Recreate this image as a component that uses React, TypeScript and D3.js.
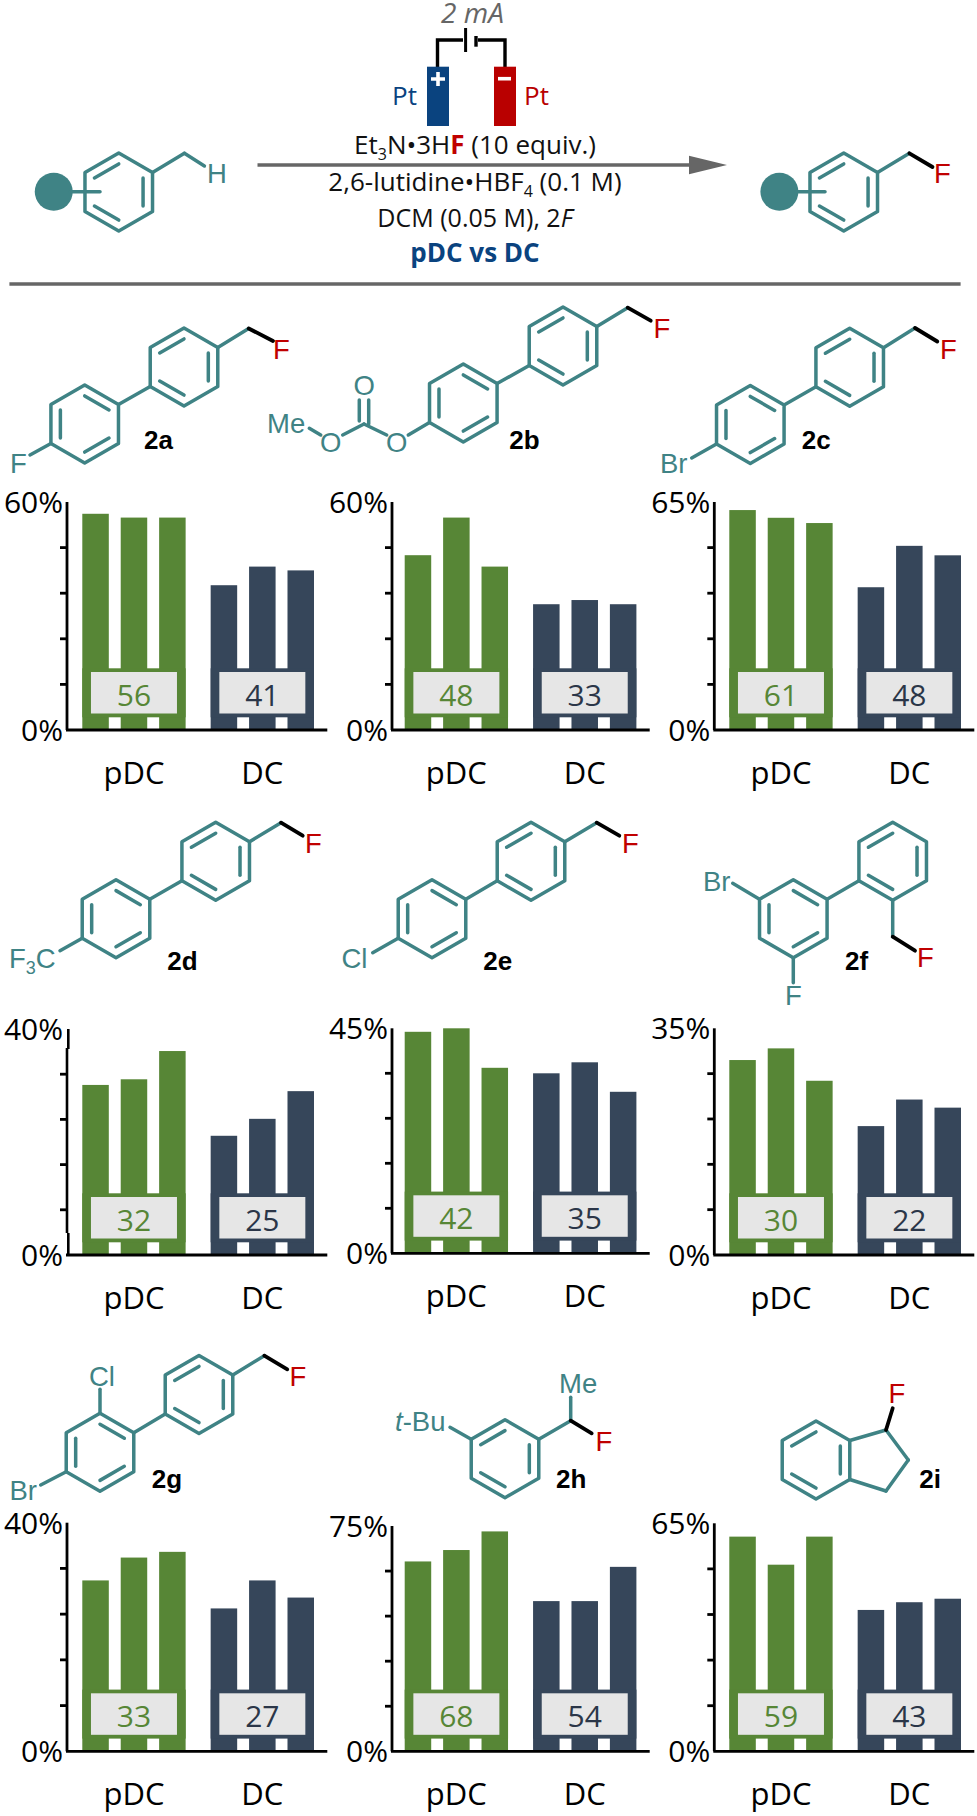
import React from "react";
import * as d3 from "d3";

// ---------- data ----------
const panelIds = ["2a", "2b", "2c", "2d", "2e", "2f", "2g", "2h", "2i"];
const axisMax = [60, 60, 65, 40, 45, 35, 40, 75, 65];
const pdcRuns = [
  [56.9, 55.9, 55.9], [46, 55.9, 43], [62.7, 60.5, 59],
  [30.1, 31.1, 36.1], [44.3, 45, 37.1], [30.1, 31.9, 26.9],
  [29.9, 33.9, 34.9], [63.2, 67, 73.2], [61.2, 53.2, 61.2],
];
const dcRuns = [
  [38.1, 43, 42], [33.1, 34.2, 33.1], [40.7, 52.5, 49.8],
  [21.1, 24.1, 29], [36, 38.2, 32.3], [19.9, 24, 22.75],
  [25, 29.9, 26.9], [50, 50, 61.4], [40.3, 42.5, 43.5],
];
const pdcMeans = [56, 48, 61, 32, 42, 30, 33, 68, 59];
const dcMeans = [41, 33, 48, 25, 35, 22, 27, 54, 43];
const methods = ["pDC", "DC"];
const runs = [0, 1, 2];

// ---------- layout ----------
const axisXs = [67, 392, 714.3];
const barStarts = [82.3, 404.7, 729.3];
const baselines = [730, 730, 730, 1255, 1253.3, 1255, 1751.3, 1751.3, 1751.3];
const tops = [502, 502, 502, 1029, 1028.3, 1028.3, 1522.7, 1526, 1523.3];

const TEAL = "#3f8385";
const RED = "#c00000";
const BLUE = "#0a437f";
const GREEN = "#578636";
const NAVY = "#36465a";
const NAVY_TEXT = "#2b3648";
const SANS = "'Open Sans', sans-serif";
const ATOM = "'Liberation Sans', Arial, sans-serif";
const BOND = 3.5;

type P = [number, number];

function Seg({ a, b, c = TEAL, w = BOND }: { a: P; b: P; c?: string; w?: number }) {
  return <line x1={a[0]} y1={a[1]} x2={b[0]} y2={b[1]} stroke={c} strokeWidth={w} strokeLinecap="round" />;
}

function vertex(cx: number, cy: number, r: number, i: number): P {
  const t = (i * Math.PI) / 3;
  return [cx + r * Math.sin(t), cy - r * Math.cos(t)];
}

// config A: doubles on UL-T, UR-LR, LL-B; config B: T-UR, LR-B, LL-UL
function Ring({ cx, cy, r = 39, cfg }: { cx: number; cy: number; r?: number; cfg: "A" | "B" }) {
  const v = d3.range(6).map((i) => vertex(cx, cy, r, i));
  const line = d3.line()(v as any) + "Z";
  const inner = cfg === "A" ? [5, 1, 3] : [0, 2, 4];
  return (
    <g>
      <path d={line} fill="none" stroke={TEAL} strokeWidth={BOND} strokeLinejoin="round" />
      {inner.map((i) => (
        <Seg key={i} a={vertex(cx, cy, r * 0.72, i)} b={vertex(cx, cy, r * 0.72, (i + 1) % 6)} />
      ))}
    </g>
  );
}

function Atom({ x, y, t, c = TEAL, s = 27.5 }: { x: number; y: number; t: React.ReactNode; c?: string; s?: number }) {
  return <text x={x} y={y} fill={c} fontFamily={ATOM} fontSize={s}>{t}</text>;
}

function Tag({ x, y, t }: { x: number; y: number; t: string }) {
  return <text x={x} y={y} fill="#000" fontFamily={ATOM} fontWeight={700} fontSize={26}>{t}</text>;
}

function Biaryl({ lx, ly, rx, ry }: { lx: number; ly: number; rx: number; ry: number }) {
  return (
    <g>
      <Ring cx={lx} cy={ly} cfg="B" />
      <Ring cx={rx} cy={ry} cfg="A" />
      <Seg a={vertex(lx, ly, 39, 1)} b={vertex(rx, ry, 39, 4)} />
    </g>
  );
}

function CH2F({ from, mid, end, f }: { from: P; mid: P; end: P; f: P }) {
  return (
    <g>
      <Seg a={from} b={mid} />
      <Seg a={mid} b={end} c="#000" w={3.8} />
      <Atom x={f[0]} y={f[1]} t="F" c={RED} />
    </g>
  );
}

function Molecules() {
  return (
    <g>
      {/* 2a */}
      <Biaryl lx={84.7} ly={424} rx={184} ry={367} />
      <CH2F from={[217.8, 347.5]} mid={[248.7, 328.5]} end={[273, 341]} f={[273, 359]} />
      <Seg a={[50.9, 443.5]} b={[30, 455]} />
      <Atom x={10} y={472.7} t="F" />
      <Tag x={144} y={449} t="2a" />
      {/* 2b */}
      <Biaryl lx={463.3} ly={403} rx={563} ry={346} />
      <CH2F from={[596.8, 326.5]} mid={[627.7, 307.7]} end={[650.7, 320.7]} f={[653.5, 337.7]} />
      <Seg a={[429.5, 422.5]} b={[408.3, 435]} />
      <Seg a={[386.7, 435]} b={[364, 424]} />
      <Seg a={[364, 424]} b={[342.7, 435]} />
      <Seg a={[320.7, 435]} b={[309.3, 428.3]} />
      <Seg a={[359.3, 400]} b={[359.3, 421]} />
      <Seg a={[368.7, 400]} b={[368.7, 424]} />
      <Atom x={386} y={451.5} t="O" />
      <Atom x={353.5} y={395} t="O" />
      <Atom x={320} y={451.5} t="O" />
      <Atom x={267} y={433.3} t="Me" />
      <Tag x={509.3} y={449} t="2b" />
      {/* 2c */}
      <Biaryl lx={750.3} ly={424.5} rx={849.7} ry={367.3} />
      <CH2F from={[883.5, 347.8]} mid={[915, 328]} end={[937.3, 341.5]} f={[940, 359]} />
      <Seg a={[716.5, 444]} b={[691.7, 458]} />
      <Atom x={660} y={472.7} t="Br" />
      <Tag x={801.7} y={449} t="2c" />
      {/* 2d */}
      <Biaryl lx={116} ly={918.7} rx={215.7} ry={861.3} />
      <CH2F from={[249.5, 841.8]} mid={[281, 822.7]} end={[302.7, 835.7]} f={[305, 852.7]} />
      <Seg a={[82.2, 938.2]} b={[60, 950.7]} />
      <Atom x={9} y={967.7} t={<>F<tspan dy={6} fontSize={18}>3</tspan><tspan dy={-6}>C</tspan></>} />
      <Tag x={167.3} y={970} t="2d" />
      {/* 2e */}
      <Biaryl lx={432} ly={918.7} rx={531} ry={861.3} />
      <CH2F from={[564.8, 841.8]} mid={[596.7, 822.7]} end={[619.3, 835.7]} f={[622, 852.7]} />
      <Seg a={[398.2, 938.2]} b={[372.7, 952.7]} />
      <Atom x={341.5} y={967.7} t="Cl" />
      <Tag x={483.3} y={970} t="2e" />
      {/* 2f */}
      <Biaryl lx={793.3} ly={918.7} rx={892.7} ry={861.3} />
      <Seg a={[759.5, 899.2]} b={[732.7, 883.3]} />
      <Atom x={703} y={890.7} t="Br" />
      <Seg a={[793.3, 957.7]} b={[793.3, 982.7]} />
      <Atom x={785} y={1005} t="F" />
      <CH2F from={[892.7, 900.3]} mid={[892.7, 936.7]} end={[915, 950.7]} f={[917, 967.3]} />
      <Tag x={845} y={970} t="2f" />
      {/* 2g */}
      <Biaryl lx={100} ly={1452.3} rx={199} ry={1394.5} />
      <CH2F from={[232.8, 1375]} mid={[264.3, 1355.7]} end={[287.3, 1369.3]} f={[289.5, 1386]} />
      <Seg a={[100, 1413.3]} b={[100, 1389.3]} />
      <Atom x={89} y={1386} t="Cl" />
      <Seg a={[66.2, 1471.8]} b={[40.7, 1485]} />
      <Atom x={9.5} y={1500} t="Br" />
      <Tag x={151.7} y={1487.7} t="2g" />
      {/* 2h */}
      <Ring cx={505} cy={1458.7} cfg="A" />
      <Seg a={[538.8, 1439.2]} b={[570.7, 1420.7]} />
      <Seg a={[570.7, 1420.7]} b={[570.7, 1397.3]} />
      <Seg a={[570.7, 1420.7]} b={[591.7, 1433.3]} c="#000" w={3.8} />
      <Atom x={559} y={1393.3} t="Me" />
      <Atom x={595.5} y={1450.7} t="F" c={RED} />
      <Seg a={[471.2, 1439.2]} b={[450, 1427.3]} />
      <Atom x={395} y={1431} t={<><tspan fontStyle="italic">t</tspan>-Bu</>} />
      <Tag x={556} y={1488.3} t="2h" />
      {/* 2i */}
      <Ring cx={816} cy={1460} cfg="A" />
      <Seg a={[849.8, 1440.5]} b={[886, 1430]} />
      <Seg a={[886, 1430]} b={[908.3, 1460]} />
      <Seg a={[908.3, 1460]} b={[886, 1491]} />
      <Seg a={[886, 1491]} b={[849.8, 1479.5]} />
      <Seg a={[886, 1430]} b={[892.7, 1408.3]} c="#000" w={3.8} />
      <Atom x={888.5} y={1403.3} t="F" c={RED} />
      <Tag x={919.3} y={1488.3} t="2i" />
    </g>
  );
}

function Scheme() {
  const lines = { fontFamily: SANS, fontSize: 26, fill: "#111", textAnchor: "middle" as const };
  const sub = { dy: 6, fontSize: 16 };
  return (
    <g>
      <text x={472.5} y={23} fontFamily={SANS} fontStyle="italic" fontSize={28} fill="#666" textAnchor="middle">2 mA</text>
      <path d="M437.5 67V40H463M478 40H505V67" fill="none" stroke="#000" strokeWidth={3.4} />
      <line x1={465.6} x2={465.6} y1={28} y2={52} stroke="#000" strokeWidth={3} />
      <line x1={476} x2={476} y1={36} y2={46.7} stroke="#000" strokeWidth={3.4} />
      <rect x={427} y={66.7} width={22} height={59.3} fill={BLUE} />
      <rect x={494} y={66.7} width={22} height={59.3} fill="#b90000" />
      <path d="M438 72V86M431 79H445" stroke="#fff" strokeWidth={3.6} fill="none" />
      <path d="M498 78.7H511" stroke="#fff" strokeWidth={3.6} fill="none" />
      <text x={392} y={105} fontFamily={SANS} fontSize={26} fill={BLUE}>Pt</text>
      <text x={524} y={105} fontFamily={SANS} fontSize={26} fill="#b90000">Pt</text>

      <text x={475} y={154} {...lines}>
        Et<tspan {...sub}>3</tspan><tspan dy={-6}>N•3H</tspan><tspan fill={RED} fontWeight={700}>F</tspan> (10 equiv.)
      </text>
      <text x={475} y={190.7} {...lines}>
        2,6-lutidine•HBF<tspan {...sub}>4</tspan><tspan dy={-6}> (0.1 M)</tspan>
      </text>
      <text x={475} y={226.7} {...lines} fontSize={25}>
        DCM (0.05 M), 2<tspan fontStyle="italic">F</tspan>
      </text>
      <text x={475} y={261.7} {...lines} fontWeight={700} fill={BLUE}>pDC vs DC</text>

      <line x1={257.5} x2={692} y1={165} y2={165} stroke="#666" strokeWidth={3.5} />
      <path d="M689 155.7L727 165L689 174.3Z" fill="#666" />
      <line x1={9.4} x2={960.6} y1={284} y2={284} stroke="#666" strokeWidth={3.5} />

      <circle cx={53.75} cy={191.7} r={19} fill={TEAL} />
      <Seg a={[70, 191.7]} b={[100, 191.7]} />
      <Ring cx={118.75} cy={192} cfg="A" />
      <Seg a={[152.5, 172.5]} b={[184.4, 153.3]} />
      <Seg a={[184.4, 153.3]} b={[204.4, 166]} />
      <Atom x={207} y={183.3} t="H" />

      <circle cx={779.4} cy={191.7} r={19} fill={TEAL} />
      <Seg a={[796, 191.7]} b={[825, 191.7]} />
      <Ring cx={843.75} cy={192} cfg="A" />
      <CH2F from={[877.5, 172.5]} mid={[909.4, 153.3]} end={[932.5, 167]} f={[934, 183.3]} />
    </g>
  );
}

function Panel({ i }: { i: number }) {
  const base = baselines[i];
  const top = tops[i];
  const ax = axisXs[i % 3];
  const start = barStarts[i % 3];
  const y = d3.scaleLinear().domain([0, axisMax[i]]).range([base, top]);
  const group = d3.scaleBand<string>().domain(methods).range([start, start + 231.7]).paddingInner(0.195);
  const bar = d3.scaleBand<number>().domain(runs).range([0, group.bandwidth()]).paddingInner(0.31);
  const ticks = d3.range(0, 6).map((k) => (axisMax[i] * k) / 5);
  const series = [pdcRuns[i], dcRuns[i]];
  const means = [pdcMeans[i], dcMeans[i]];
  const colors = [GREEN, NAVY];
  const textColors = [GREEN, NAVY_TEXT];
  const jog = panelIds[i] === "2d";
  return (
    <g>
      {methods.map((m, g) => {
        const gx = group(m)!;
        const cx = gx + group.bandwidth() / 2;
        return (
          <g key={m}>
            {runs.map((r) => (
              <rect key={r} x={gx + bar(r)!} width={bar.bandwidth()} y={y(series[g][r])} height={base - y(series[g][r])} fill={colors[g]} />
            ))}
            <rect x={gx} width={group.bandwidth()} y={base - 61.7} height={49} fill={colors[g]} />
            <rect x={cx - 43} width={86} y={base - 58} height={41.5} fill="#e6e6e6" />
            <text x={cx} y={base - 24} textAnchor="middle" fontFamily={SANS} fontSize={30} fill={textColors[g]}>{means[g]}</text>
            <text x={cx} y={base + 54} textAnchor="middle" fontFamily={SANS} fontSize={31} fill="#000">{m}</text>
          </g>
        );
      })}
      {ticks.slice(1, 5).map((t) => (
        <line key={t} x1={ax - 7} x2={ax} y1={y(t)} y2={y(t)} stroke="#000" strokeWidth={2.8} />
      ))}
      {jog ? (
        <path d={`M${ax + 1.3} ${top}V${top + 20}M${ax} ${top + 19}V${base - 22}M${ax + 1.3} ${base - 22}V${base}`} stroke="#000" strokeWidth={2.6} fill="none" />
      ) : (
        <line x1={ax} x2={ax} y1={top} y2={base} stroke="#000" strokeWidth={2.8} />
      )}
      <line x1={ax - 1} x2={start + 245} y1={base} y2={base} stroke="#000" strokeWidth={2.8} />
      <text x={ax - 4} y={top + 11} textAnchor="end" fontFamily={SANS} fontSize={30} fill="#000">{axisMax[i]}%</text>
      <text x={ax - 4} y={base + 11} textAnchor="end" fontFamily={SANS} fontSize={30} fill="#000">0%</text>
    </g>
  );
}

export default function App() {
  return (
    <svg width={977} height={1816} viewBox="0 0 977 1816" style={{ position: "absolute", left: 0, top: 0, background: "#fff" }}>
      <Scheme />
      <Molecules />
      {panelIds.map((id, i) => <Panel key={id} i={i} />)}
    </svg>
  );
}
